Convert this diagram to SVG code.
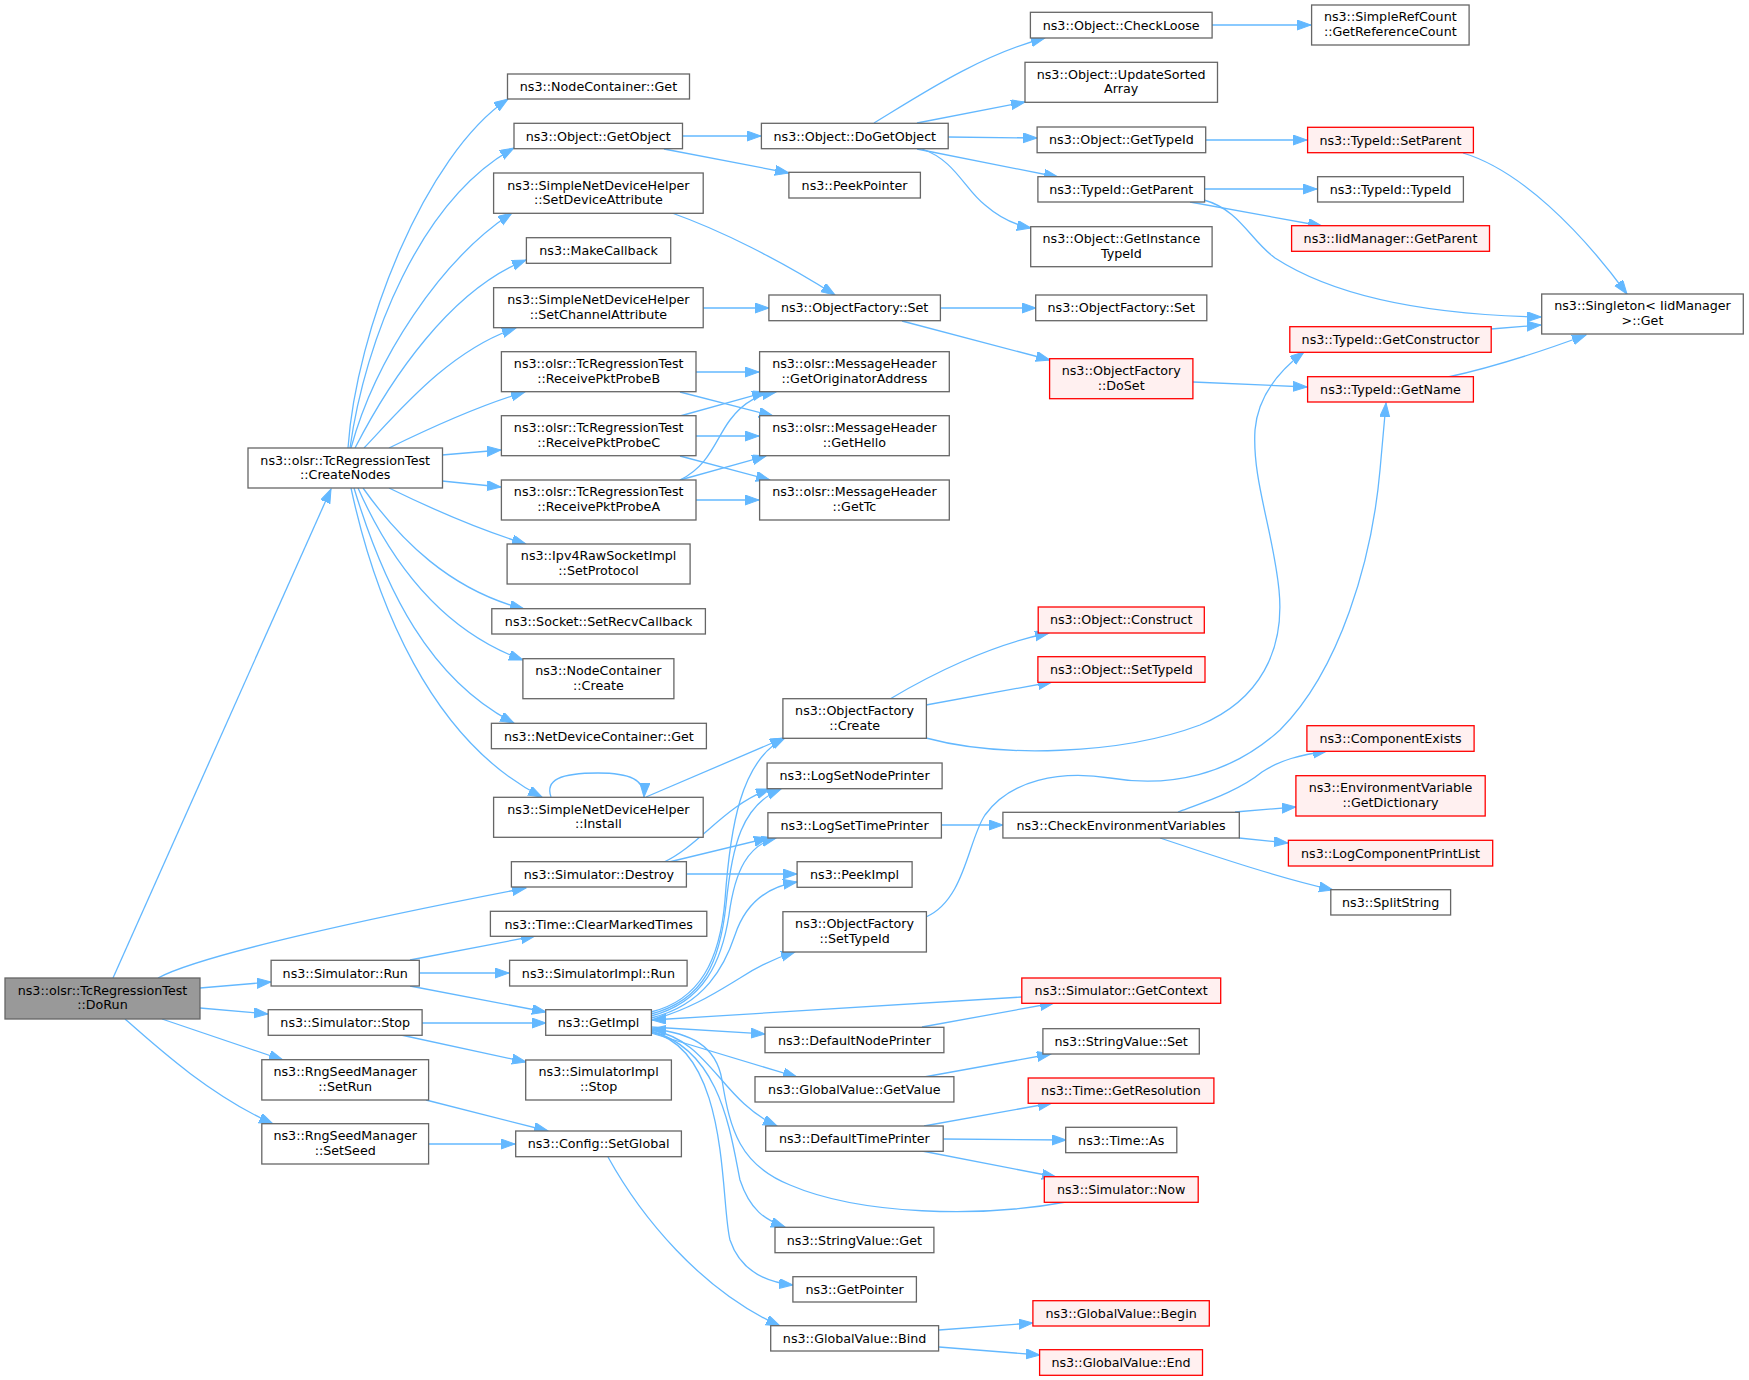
<svg xmlns="http://www.w3.org/2000/svg" width="1749" height="1380" viewBox="0 0 1749 1380">
<style>
text{font-family:"DejaVu Sans","Noto Sans",sans-serif;font-size:12.7px;text-anchor:middle;fill:#000}
.n rect{fill:#fff;stroke:#666;stroke-width:1.3}
.r rect{fill:#fff0f0;stroke:#f00;stroke-width:1.3}
.h rect{fill:#999;stroke:#666;stroke-width:1.3}
#edges path{fill:none;stroke:#63b8ff;stroke-width:1.3;marker-end:url(#a)}
</style>
<defs>
<marker id="a" markerUnits="userSpaceOnUse" markerWidth="15" markerHeight="11" refX="14" refY="5" orient="auto">
<path d="M0,0 L14,5 L0,10 z" fill="#63b8ff" stroke="#63b8ff" stroke-width="1"/>
</marker>
</defs>
<rect width="1749" height="1380" fill="#fff"/>
<g id="edges">
<path d="M113,978 L331,489"/>
<path d="M158,978 C200,955 370,918 526,888"/>
<path d="M200,988 L271,982"/>
<path d="M200,1008 L268,1014"/>
<path d="M162,1019 L283,1060"/>
<path d="M125,1019 C160,1050 210,1095 273,1124"/>
<path d="M348,448 C356,330 425,155 508,99"/>
<path d="M350,448 C365,340 420,200 514,148"/>
<path d="M351,448 C375,360 440,260 512,213"/>
<path d="M355,448 C390,380 450,290 526,260"/>
<path d="M364,448 C400,410 450,350 516,328"/>
<path d="M389,448 C430,428 480,405 525,392"/>
<path d="M442,455 L501,450"/>
<path d="M442,481 L501,487"/>
<path d="M389,488 C430,508 480,530 526,544"/>
<path d="M363,488 C400,540 450,590 524,609"/>
<path d="M358,488 C390,560 440,630 523,660"/>
<path d="M354,488 C385,590 430,680 514,723"/>
<path d="M351,488 C375,600 430,740 542,797"/>
<path d="M551,797 C545,780 560,773 598,773 C630,773 645,780 644,797"/>
<path d="M646,797 L784,738"/>
<path d="M664,862 C700,845 725,805 770,789"/>
<path d="M669,862 L768,838"/>
<path d="M686,874 L797,874"/>
<path d="M410,960 L535,936"/>
<path d="M419,973 L509,973"/>
<path d="M410,986 L546,1012"/>
<path d="M422,1023 L546,1023"/>
<path d="M401,1035 L526,1062"/>
<path d="M426,1100 L548,1131"/>
<path d="M429,1144 L515,1144"/>
<path d="M608,1157 C640,1215 700,1290 780,1326"/>
<path d="M651,1012 C700,1000 720,960 725,900 C730,830 740,760 785,738"/>
<path d="M651,1014 C705,1000 720,960 726,905 C732,845 742,805 781,789"/>
<path d="M651,1016 C705,1002 722,960 729,915 C735,870 748,845 776,838"/>
<path d="M651,1018 C705,1005 725,965 735,935 C745,905 765,887 797,882"/>
<path d="M651,1020 C690,1010 720,990 740,978 C755,968 775,958 795,952"/>
<path d="M651,1027 L765,1034"/>
<path d="M651,1033 C690,1045 740,1060 797,1077"/>
<path d="M651,1030 C710,1040 720,1100 777,1126"/>
<path d="M651,1031 C720,1050 730,1130 740,1180 C750,1210 765,1220 785,1227"/>
<path d="M651,1032 C730,1050 720,1200 730,1240 C740,1270 765,1282 793,1285"/>
<path d="M1066,1202 C980,1218 860,1215 790,1185 C740,1165 730,1130 722,1080 C716,1045 690,1033 652,1029"/>
<path d="M1022,997 L652,1020"/>
<path d="M922,1027 L1054,1003"/>
<path d="M682,136 L761,136"/>
<path d="M664,149 L789,173"/>
<path d="M672,213 C720,230 780,260 835,295"/>
<path d="M703,308 L769,308"/>
<path d="M696,372 L759,372"/>
<path d="M680,392 L773,416"/>
<path d="M680,416 L766,392"/>
<path d="M696,436 L759,436"/>
<path d="M680,456 L770,480"/>
<path d="M680,480 C710,465 715,440 730,420 C745,400 760,395 776,392"/>
<path d="M680,480 L766,456"/>
<path d="M696,500 L759,500"/>
<path d="M874,123 C920,95 980,55 1045,38"/>
<path d="M917,123 L1025,102"/>
<path d="M948,137 L1037,138"/>
<path d="M917,149 L1058,177"/>
<path d="M922,149 C955,160 965,190 985,205 C1000,218 1015,225 1031,228"/>
<path d="M1206,140 L1307,140"/>
<path d="M1205,189 L1317,189"/>
<path d="M1190,202 L1322,226"/>
<path d="M1204,200 C1240,210 1250,240 1275,258 C1340,300 1440,315 1541,317"/>
<path d="M1212,25 L1311,25"/>
<path d="M1463,153 C1520,170 1580,230 1627,294"/>
<path d="M1491,329 L1541,325"/>
<path d="M1448,377 C1490,368 1540,352 1586,335"/>
<path d="M940,308 L1036,308"/>
<path d="M902,321 L1050,360"/>
<path d="M1193,382 L1307,387"/>
<path d="M890,699 C930,675 990,645 1049,633"/>
<path d="M926,705 L1052,682"/>
<path d="M926,738 C1000,758 1120,755 1200,725 C1260,700 1285,650 1279,590 C1273,530 1252,480 1255,430 C1258,395 1280,370 1304,352"/>
<path d="M926,917 C965,900 968,840 985,815 C1010,780 1060,770 1110,778 C1170,788 1230,775 1280,730 C1340,670 1372,560 1380,470 L1386,403"/>
<path d="M1178,812 C1210,800 1240,790 1262,772 C1280,760 1300,755 1327,751"/>
<path d="M1235,812 L1296,807"/>
<path d="M1239,838 L1288,843"/>
<path d="M1160,838 C1220,858 1280,878 1333,890"/>
<path d="M941,825 L1003,825"/>
<path d="M924,1126 L1052,1103"/>
<path d="M943,1139 L1066,1140"/>
<path d="M922,1151 L1056,1177"/>
<path d="M924,1077 L1051,1054"/>
<path d="M939,1330 L1033,1323"/>
<path d="M939,1347 L1040,1355"/>
</g>
<g id="DoRun" class="h"><rect x="5" y="978" width="195" height="41"/><text x="102.5" y="994.5">ns3::olsr::TcRegressionTest</text><text x="102.5" y="1009">::DoRun</text></g>
<g id="CreateNodes" class="n"><rect x="248" y="448" width="194.5" height="40"/><text x="345.2" y="464.5">ns3::olsr::TcRegressionTest</text><text x="345.2" y="479">::CreateNodes</text></g>
<g id="NodeContainerGet" class="n"><rect x="507.5" y="74" width="182" height="25"/><text x="598.5" y="91">ns3::NodeContainer::Get</text></g>
<g id="GetObject" class="n"><rect x="514" y="123.3" width="168.5" height="25.4"/><text x="598.2" y="140.5">ns3::Object::GetObject</text></g>
<g id="SetDeviceAttribute" class="n"><rect x="493.6" y="173" width="209.6" height="40.3"/><text x="598.4" y="189.5">ns3::SimpleNetDeviceHelper</text><text x="598.4" y="204">::SetDeviceAttribute</text></g>
<g id="MakeCallback" class="n"><rect x="526.4" y="237.7" width="144.3" height="25.6"/><text x="598.5" y="255">ns3::MakeCallback</text></g>
<g id="SetChannelAttribute" class="n"><rect x="493.6" y="287.7" width="209.6" height="40"/><text x="598.4" y="304">ns3::SimpleNetDeviceHelper</text><text x="598.4" y="318.7">::SetChannelAttribute</text></g>
<g id="ReceivePktProbeB" class="n"><rect x="501.4" y="351.7" width="194.6" height="40"/><text x="598.7" y="368">ns3::olsr::TcRegressionTest</text><text x="598.7" y="382.7">::ReceivePktProbeB</text></g>
<g id="ReceivePktProbeC" class="n"><rect x="501.4" y="415.7" width="194.6" height="40"/><text x="598.7" y="432">ns3::olsr::TcRegressionTest</text><text x="598.7" y="446.7">::ReceivePktProbeC</text></g>
<g id="ReceivePktProbeA" class="n"><rect x="501.4" y="480" width="194.6" height="40"/><text x="598.7" y="496.3">ns3::olsr::TcRegressionTest</text><text x="598.7" y="511">::ReceivePktProbeA</text></g>
<g id="SetProtocol" class="n"><rect x="507.1" y="544" width="183" height="40"/><text x="598.6" y="560.3">ns3::Ipv4RawSocketImpl</text><text x="598.6" y="575">::SetProtocol</text></g>
<g id="SetRecvCallback" class="n"><rect x="491.8" y="608.7" width="213.6" height="25.3"/><text x="598.6" y="626">ns3::Socket::SetRecvCallback</text></g>
<g id="NodeContainerCreate" class="n"><rect x="522.9" y="658.7" width="151" height="40"/><text x="598.4" y="675">ns3::NodeContainer</text><text x="598.4" y="689.7">::Create</text></g>
<g id="NetDeviceContainerGet" class="n"><rect x="491.4" y="723.3" width="215" height="25.4"/><text x="598.9" y="740.5">ns3::NetDeviceContainer::Get</text></g>
<g id="Install" class="n"><rect x="493.6" y="797.3" width="209.6" height="40"/><text x="598.4" y="813.6">ns3::SimpleNetDeviceHelper</text><text x="598.4" y="828.3">::Install</text></g>
<g id="Destroy" class="n"><rect x="511.4" y="861.7" width="175" height="25.3"/><text x="598.9" y="879">ns3::Simulator::Destroy</text></g>
<g id="ClearMarkedTimes" class="n"><rect x="490.4" y="911.3" width="216.4" height="25"/><text x="598.6" y="928.5">ns3::Time::ClearMarkedTimes</text></g>
<g id="SimulatorRun" class="n"><rect x="271.1" y="960.3" width="148.2" height="25.7"/><text x="345.2" y="977.5">ns3::Simulator::Run</text></g>
<g id="SimulatorImplRun" class="n"><rect x="509.6" y="960.3" width="177.5" height="25.7"/><text x="598.4" y="977.5">ns3::SimulatorImpl::Run</text></g>
<g id="SimulatorStop" class="n"><rect x="268.2" y="1009.7" width="153.9" height="25.6"/><text x="345.2" y="1027">ns3::Simulator::Stop</text></g>
<g id="GetImpl" class="n"><rect x="545.7" y="1009.7" width="105.7" height="25.6"/><text x="598.6" y="1027">ns3::GetImpl</text></g>
<g id="SetRun" class="n"><rect x="261.8" y="1059.7" width="166.8" height="40.3"/><text x="345.2" y="1076">ns3::RngSeedManager</text><text x="345.2" y="1090.7">::SetRun</text></g>
<g id="SimulatorImplStop" class="n"><rect x="525.7" y="1060" width="145.7" height="40"/><text x="598.6" y="1076.3">ns3::SimulatorImpl</text><text x="598.6" y="1091">::Stop</text></g>
<g id="SetSeed" class="n"><rect x="261.8" y="1123.7" width="166.8" height="40.3"/><text x="345.2" y="1140">ns3::RngSeedManager</text><text x="345.2" y="1154.7">::SetSeed</text></g>
<g id="SetGlobal" class="n"><rect x="515.7" y="1131" width="165.7" height="25.7"/><text x="598.6" y="1148.3">ns3::Config::SetGlobal</text></g>
<g id="DoGetObject" class="n"><rect x="761.4" y="123.3" width="186.8" height="25.4"/><text x="854.8" y="140.5">ns3::Object::DoGetObject</text></g>
<g id="PeekPointer" class="n"><rect x="788.9" y="172.3" width="131.5" height="25.7"/><text x="854.6" y="189.5">ns3::PeekPointer</text></g>
<g id="ObjectFactorySetA" class="n"><rect x="768.9" y="295" width="171.5" height="25.7"/><text x="854.6" y="312.3">ns3::ObjectFactory::Set</text></g>
<g id="GetOriginatorAddress" class="n"><rect x="759.6" y="351.7" width="189.7" height="40"/><text x="854.4" y="368">ns3::olsr::MessageHeader</text><text x="854.4" y="382.7">::GetOriginatorAddress</text></g>
<g id="GetHello" class="n"><rect x="759.6" y="415.7" width="189.7" height="40"/><text x="854.4" y="432">ns3::olsr::MessageHeader</text><text x="854.4" y="446.7">::GetHello</text></g>
<g id="GetTc" class="n"><rect x="759.6" y="480" width="189.7" height="40"/><text x="854.4" y="496.3">ns3::olsr::MessageHeader</text><text x="854.4" y="511">::GetTc</text></g>
<g id="ObjectFactoryCreate" class="n"><rect x="782.9" y="698.7" width="143.5" height="39.6"/><text x="854.6" y="715">ns3::ObjectFactory</text><text x="854.6" y="729.7">::Create</text></g>
<g id="LogSetNodePrinter" class="n"><rect x="767.1" y="763" width="175" height="25.7"/><text x="854.6" y="780.3">ns3::LogSetNodePrinter</text></g>
<g id="LogSetTimePrinter" class="n"><rect x="767.9" y="812.7" width="173.5" height="25.3"/><text x="854.6" y="830">ns3::LogSetTimePrinter</text></g>
<g id="PeekImpl" class="n"><rect x="797.1" y="861.7" width="115" height="25.6"/><text x="854.6" y="879">ns3::PeekImpl</text></g>
<g id="ObjectFactorySetTypeId" class="n"><rect x="782.9" y="911.7" width="143.5" height="40.3"/><text x="854.6" y="928">ns3::ObjectFactory</text><text x="854.6" y="942.7">::SetTypeId</text></g>
<g id="DefaultNodePrinter" class="n"><rect x="765" y="1027.3" width="178.9" height="25.4"/><text x="854.4" y="1044.5">ns3::DefaultNodePrinter</text></g>
<g id="GlobalValueGetValue" class="n"><rect x="755" y="1076.7" width="198.9" height="25.3"/><text x="854.4" y="1094">ns3::GlobalValue::GetValue</text></g>
<g id="DefaultTimePrinter" class="n"><rect x="765.7" y="1126" width="177.5" height="25.3"/><text x="854.4" y="1143.3">ns3::DefaultTimePrinter</text></g>
<g id="StringValueGet" class="n"><rect x="775" y="1227.3" width="158.9" height="25.4"/><text x="854.4" y="1244.5">ns3::StringValue::Get</text></g>
<g id="GetPointer" class="n"><rect x="792.9" y="1276.7" width="123.5" height="25.3"/><text x="854.6" y="1294">ns3::GetPointer</text></g>
<g id="GlobalValueBind" class="n"><rect x="770.7" y="1325.7" width="167.9" height="25.3"/><text x="854.6" y="1343">ns3::GlobalValue::Bind</text></g>
<g id="CheckLoose" class="n"><rect x="1030.4" y="12.3" width="181.7" height="25.7"/><text x="1121.2" y="29.5">ns3::Object::CheckLoose</text></g>
<g id="UpdateSortedArray" class="n"><rect x="1025" y="62.3" width="192.5" height="40"/><text x="1121.2" y="78.6">ns3::Object::UpdateSorted</text><text x="1121.2" y="93.3">Array</text></g>
<g id="ObjectGetTypeId" class="n"><rect x="1037.1" y="127" width="168.6" height="25.7"/><text x="1121.4" y="144.3">ns3::Object::GetTypeId</text></g>
<g id="TypeIdGetParent" class="n"><rect x="1037.9" y="176.7" width="166.7" height="25.3"/><text x="1121.2" y="194">ns3::TypeId::GetParent</text></g>
<g id="GetInstanceTypeId" class="n"><rect x="1030.7" y="226.7" width="181.4" height="40"/><text x="1121.4" y="243">ns3::Object::GetInstance</text><text x="1121.4" y="257.7">TypeId</text></g>
<g id="ObjectFactorySetB" class="n"><rect x="1035.7" y="295" width="171.1" height="25.7"/><text x="1121.2" y="312.3">ns3::ObjectFactory::Set</text></g>
<g id="DoSet" class="r"><rect x="1049.6" y="358.7" width="143.3" height="40"/><text x="1121.2" y="375">ns3::ObjectFactory</text><text x="1121.2" y="389.7">::DoSet</text></g>
<g id="Construct" class="r"><rect x="1038.2" y="607" width="166.1" height="26"/><text x="1121.2" y="624.3">ns3::Object::Construct</text></g>
<g id="ObjectSetTypeId" class="r"><rect x="1037.9" y="656.7" width="167.1" height="25.6"/><text x="1121.4" y="674">ns3::Object::SetTypeId</text></g>
<g id="CheckEnvironmentVariables" class="n"><rect x="1002.9" y="812.3" width="236.4" height="25.7"/><text x="1121.1" y="829.6">ns3::CheckEnvironmentVariables</text></g>
<g id="GetContext" class="r"><rect x="1021.8" y="978" width="198.9" height="25.3"/><text x="1121.2" y="995.3">ns3::Simulator::GetContext</text></g>
<g id="StringValueSet" class="n"><rect x="1042.9" y="1028.7" width="156.4" height="25.3"/><text x="1121.1" y="1046">ns3::StringValue::Set</text></g>
<g id="GetResolution" class="r"><rect x="1028.2" y="1078" width="185.7" height="25.3"/><text x="1121" y="1095.3">ns3::Time::GetResolution</text></g>
<g id="TimeAs" class="n"><rect x="1065.7" y="1127.3" width="111.1" height="25.4"/><text x="1121.2" y="1144.6">ns3::Time::As</text></g>
<g id="SimulatorNow" class="r"><rect x="1044.3" y="1176.7" width="153.9" height="25.6"/><text x="1121.2" y="1194">ns3::Simulator::Now</text></g>
<g id="GlobalValueBegin" class="r"><rect x="1032.9" y="1300.7" width="176.4" height="25.3"/><text x="1121.1" y="1318">ns3::GlobalValue::Begin</text></g>
<g id="GlobalValueEnd" class="r"><rect x="1039.6" y="1349.7" width="162.9" height="25.6"/><text x="1121" y="1367">ns3::GlobalValue::End</text></g>
<g id="GetReferenceCount" class="n"><rect x="1311.6" y="5" width="157.5" height="40"/><text x="1390.3" y="21.3">ns3::SimpleRefCount</text><text x="1390.3" y="36">::GetReferenceCount</text></g>
<g id="SetParent" class="r"><rect x="1307.6" y="127.3" width="165.8" height="25.4"/><text x="1390.5" y="144.5">ns3::TypeId::SetParent</text></g>
<g id="TypeIdTypeId" class="n"><rect x="1317.6" y="176.7" width="145.8" height="25.3"/><text x="1390.5" y="194">ns3::TypeId::TypeId</text></g>
<g id="IidManagerGetParent" class="r"><rect x="1291.6" y="225.7" width="197.9" height="25.6"/><text x="1390.5" y="243">ns3::IidManager::GetParent</text></g>
<g id="GetConstructor" class="r"><rect x="1289.8" y="326.7" width="201.4" height="25.6"/><text x="1390.5" y="344">ns3::TypeId::GetConstructor</text></g>
<g id="GetName" class="r"><rect x="1307.6" y="376.7" width="165.8" height="25.3"/><text x="1390.5" y="394">ns3::TypeId::GetName</text></g>
<g id="ComponentExists" class="r"><rect x="1306.9" y="725.7" width="167.2" height="25.6"/><text x="1390.5" y="743">ns3::ComponentExists</text></g>
<g id="GetDictionary" class="r"><rect x="1295.9" y="775.7" width="189.3" height="40.3"/><text x="1390.5" y="792">ns3::EnvironmentVariable</text><text x="1390.5" y="806.7">::GetDictionary</text></g>
<g id="LogComponentPrintList" class="r"><rect x="1288.4" y="840.3" width="204.3" height="25.7"/><text x="1390.5" y="857.6">ns3::LogComponentPrintList</text></g>
<g id="SplitString" class="n"><rect x="1330.8" y="889.7" width="119.8" height="25.3"/><text x="1390.7" y="907">ns3::SplitString</text></g>
<g id="SingletonGet" class="n"><rect x="1541.7" y="294" width="201.6" height="40"/><text x="1642.5" y="310.3">ns3::Singleton&lt; IidManager</text><text x="1642.5" y="325">&gt;::Get</text></g>
</svg>
